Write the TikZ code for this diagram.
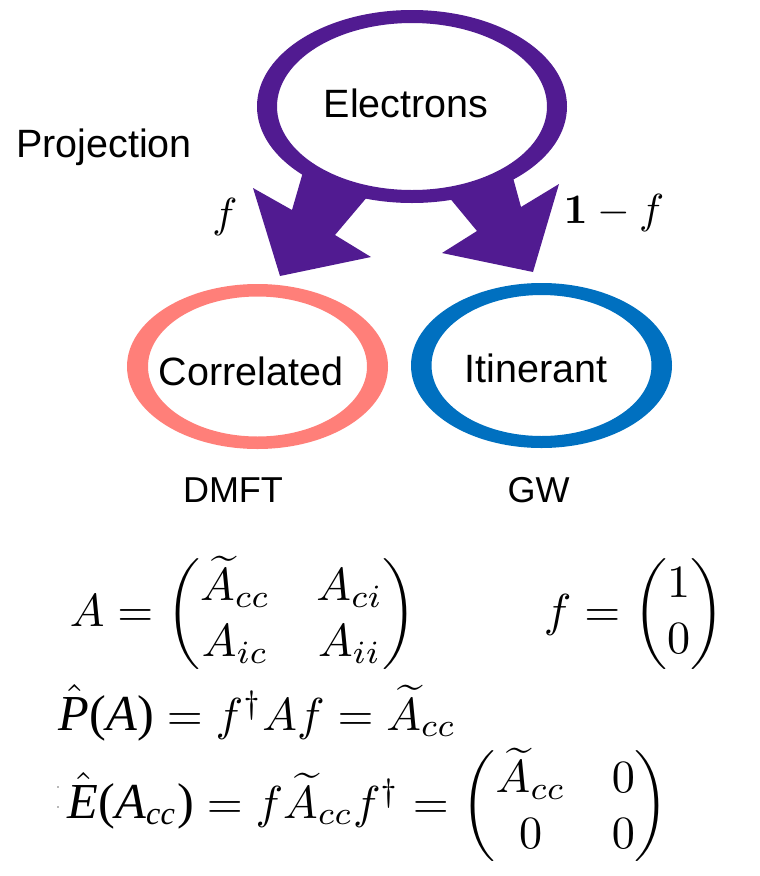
\documentclass[tikz,border=0pt]{standalone}
\usepackage{amsmath}
\usepackage[no-math]{fontspec}
\setmainfont{Liberation Sans}
\newfontfamily\tms{Liberation Serif}
\newcommand{\tmsi}{\tms\itshape}
\newcommand{\tmsz}{\fontsize{10.9}{13}\selectfont}
\definecolor{epurple}{RGB}{81,27,145}
\definecolor{esalmon}{RGB}{255,127,121}
\definecolor{eblue}{RGB}{0,112,192}
\tikzset{
  lbl/.style={inner sep=0pt, font=\fontsize{39.5}{46}\selectfont},
  lblsmall/.style={inner sep=0pt, font=\fontsize{36}{42}\selectfont},
  mth/.style={inner sep=0pt, font=\normalsize, scale=4.62},
  flbl/.style={inner sep=0pt, font=\normalsize, scale=4.2},
  ring/.style={even odd rule},
  blockarrow/.style={fill=epurple}
}
\begin{document}
\begin{tikzpicture}[x=1pt,y=-1pt]
\useasboundingbox (0,0) rectangle (760,876);
% ring centres
\coordinate (cE) at (412,106.5);
\coordinate (cC) at (257.5,366.5);
\coordinate (cI) at (541.5,365.5);
% rings
\fill[epurple, ring] (cE) ellipse [x radius=155, y radius=96.5] (cE) ellipse [x radius=135, y radius=83.5];
\fill[esalmon, ring] (cC) ellipse [x radius=130.5, y radius=82.5] (cC) ellipse [x radius=109.5, y radius=70];
\fill[eblue, ring] (cI) ellipse [x radius=130.5, y radius=82.5] (cI) ellipse [x radius=110, y radius=70.5];
% block arrows
\fill[blockarrow] (303,172) -- (292,210) -- (253,188) -- (280,276) -- (371,257) -- (335,235) -- (368,196) -- cycle;
\fill[blockarrow] (512,174) -- (521,207) -- (559,184) -- (533,272) -- (442,253) -- (477,231) -- (448,196) -- cycle;
% labels
\node[lbl, anchor=base] (electrons) at (406,117) {Electrons};
\node[lbl, anchor=base west] (proj) at (16,157) {Projection};
\node[lbl, anchor=base] (corr) at (251,385) {Correlated};
\node[lbl, anchor=base] (itin) at (536,382) {Itinerant};
\node[lblsmall, anchor=base] (dmft) at (233,502) {DMFT};
\node[lblsmall, anchor=base] (gw) at (538.5,502) {GW};
\node[flbl, anchor=base] (fl) at (225,227) {$f$};
\node[flbl, anchor=base] (fr) at (614,223) {$\mathbf{1}-f$};
% equations
\node[mth, anchor=base west] (eqA) at (69,626) {$A = \begin{pmatrix}\widetilde{A}_{cc} & A_{ci}\\ A_{ic} & A_{ii}\end{pmatrix}$};
\node[mth, anchor=base west] (eqf) at (543,626) {$f = \begin{pmatrix}1\\0\end{pmatrix}$};
\node[mth, anchor=base west] (eqP) at (58,730) {$\hat{\text{\tmsz\tmsi P}}\text{\tmsz\tms(}\text{\tmsz\tmsi A}\text{\tmsz\tms)} = f^{\dagger} A f = \widetilde{A}_{cc}$};
\node[mth, anchor=base west] (eqE) at (67,818) {$\hat{\text{\tmsz\tmsi E}}\text{\tmsz\tms(}\text{\tmsz\tmsi A}_{\text{\tmsi cc}}\text{\tmsz\tms)} = f\widetilde{A}_{cc}f^{\dagger} = \begin{pmatrix}\widetilde{A}_{cc} & 0\\ 0 & 0\end{pmatrix}$};
% small mark left of last line
\coordinate (mk) at (57,800);
\fill[gray!55] ([yshift=-8]mk) rectangle ([xshift=1.5,yshift=-6]mk);
\fill[gray!55] ([yshift=12]mk) rectangle ([xshift=1.5,yshift=14]mk);
\end{tikzpicture}
\end{document}
